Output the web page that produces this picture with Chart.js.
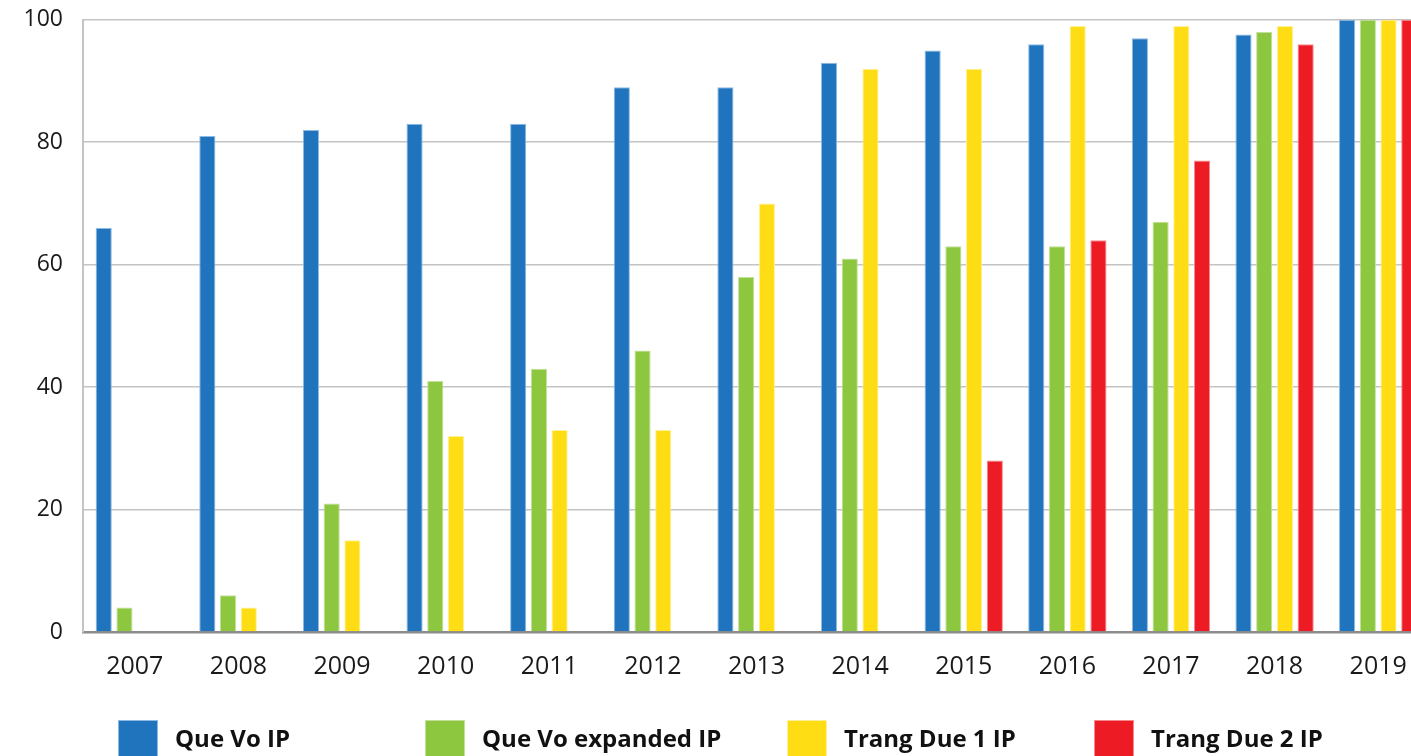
<!DOCTYPE html>
<html>
<head>
<meta charset="utf-8">
<script src="https://cdn.jsdelivr.net/npm/chart.js@4.4.1/dist/chart.umd.min.js"></script>
<style>
  html, body { margin: 0; padding: 0; background: #fff; overflow: hidden; width: 1411px; height: 756px; }
  #wrap { position: absolute; left: 0; top: -14px; width: 1430px; height: 714px; }
  #legend { position: absolute; left: 0; top: 0; width: 1411px; height: 756px; pointer-events: none; }
  .item { position: absolute; top: 720px; height: 40px; }
  .box { position: absolute; left: 0; top: 0; width: 40px; height: 40px; box-sizing: border-box; }
  .txt { position: absolute; left: 57px; top: -2px; line-height: 40px; white-space: nowrap;
         font-family: "Open Sans", sans-serif; font-weight: 700; font-size: 24px; color: #111; }
</style>
</head>
<body>
<div id="wrap"><canvas id="chart"></canvas></div>
<div id="legend"></div>
<script>
// data (percent)
const years = ['2007', '2008', '2009', '2010', '2011', '2012', '2013', '2014', '2015', '2016', '2017', '2018', '2019'];
const queVo = [66, 81, 82, 83, 83, 89, 89, 93, 95, 96, 97, 97.6, 100];
const queVoExpanded = [4, 6, 21, 41, 43, 46, 58, 61, 63, 63, 67, 98, 100];
const trangDue1 = [null, 4, 15, 32, 33, 33, 70, 92, 92, 99, 99, 99, 100];
const trangDue2 = [null, null, null, null, null, null, null, null, 28, 64, 77, 96, 100];
const yTicks = [0, 20, 40, 60, 80, 100];

const seriesNames = ['Que Vo IP', 'Que Vo expanded IP', 'Trang Due 1 IP', 'Trang Due 2 IP'];
const seriesColors = ['#1f74bd', '#8dc63f', '#ffdd15', '#ed1c24'];
const seriesEdges = ['#8fbbe3', '#c2e09a', '#fff09a', '#f58a8e'];
const legendLeft = [118, 425, 787, 1094];

let seriesData = [queVo, queVoExpanded, trangDue1, trangDue2];

let datasets = seriesData.map((d, i) => ({
    label: seriesNames[i],
    data: d,
    backgroundColor: seriesColors[i],
    borderColor: seriesEdges[i],
    borderWidth: 1,
    borderSkipped: 'bottom',
    categoryPercentage: 0.8,
    barPercentage: 0.78
}));

let ctx = document.getElementById('chart').getContext('2d');
window.barChart = new Chart(ctx, {
    type: 'bar',
    data: { labels: years, datasets: datasets },
    options: {
        responsive: true,
        maintainAspectRatio: false,
        animation: false,
        layout: { padding: { top: 6, left: 0, right: 0, bottom: 0 } },
        plugins: { legend: { display: false }, tooltip: { enabled: false } },
        scales: {
            x: {
                grid: { display: false, drawTicks: false },
                border: { color: '#8c8c8c', width: 2.5 },
                ticks: {
                    color: '#1a1a1a',
                    padding: 20,
                    font: { family: 'Open Sans', size: 25 }
                },
                afterFit: s => { s.height = 68; }
            },
            y: {
                min: 0,
                max: 100,
                afterBuildTicks: s => { s.ticks = yTicks.map(v => ({ value: v })); },
                grid: { color: '#c4c4c4', lineWidth: 1.5, drawTicks: false },
                border: { color: '#c4c4c4', width: 2 },
                ticks: {
                    color: '#1a1a1a',
                    padding: 20,
                    font: { family: 'Open Sans', size: 23 }
                },
                afterFit: s => { s.width = 83; }
            }
        }
    }
});

// legend laid out by hand, like the original
let legend = document.getElementById('legend');
seriesNames.forEach((name, i) => {
    let item = document.createElement('div');
    item.className = 'item';
    item.style.left = legendLeft[i] + 'px';
    let box = document.createElement('div');
    box.className = 'box';
    box.style.background = seriesColors[i];
    box.style.border = '1px solid ' + seriesEdges[i];
    let txt = document.createElement('div');
    txt.className = 'txt';
    txt.textContent = name;
    item.appendChild(box);
    item.appendChild(txt);
    legend.appendChild(item);
});
</script>
</body>
</html>
